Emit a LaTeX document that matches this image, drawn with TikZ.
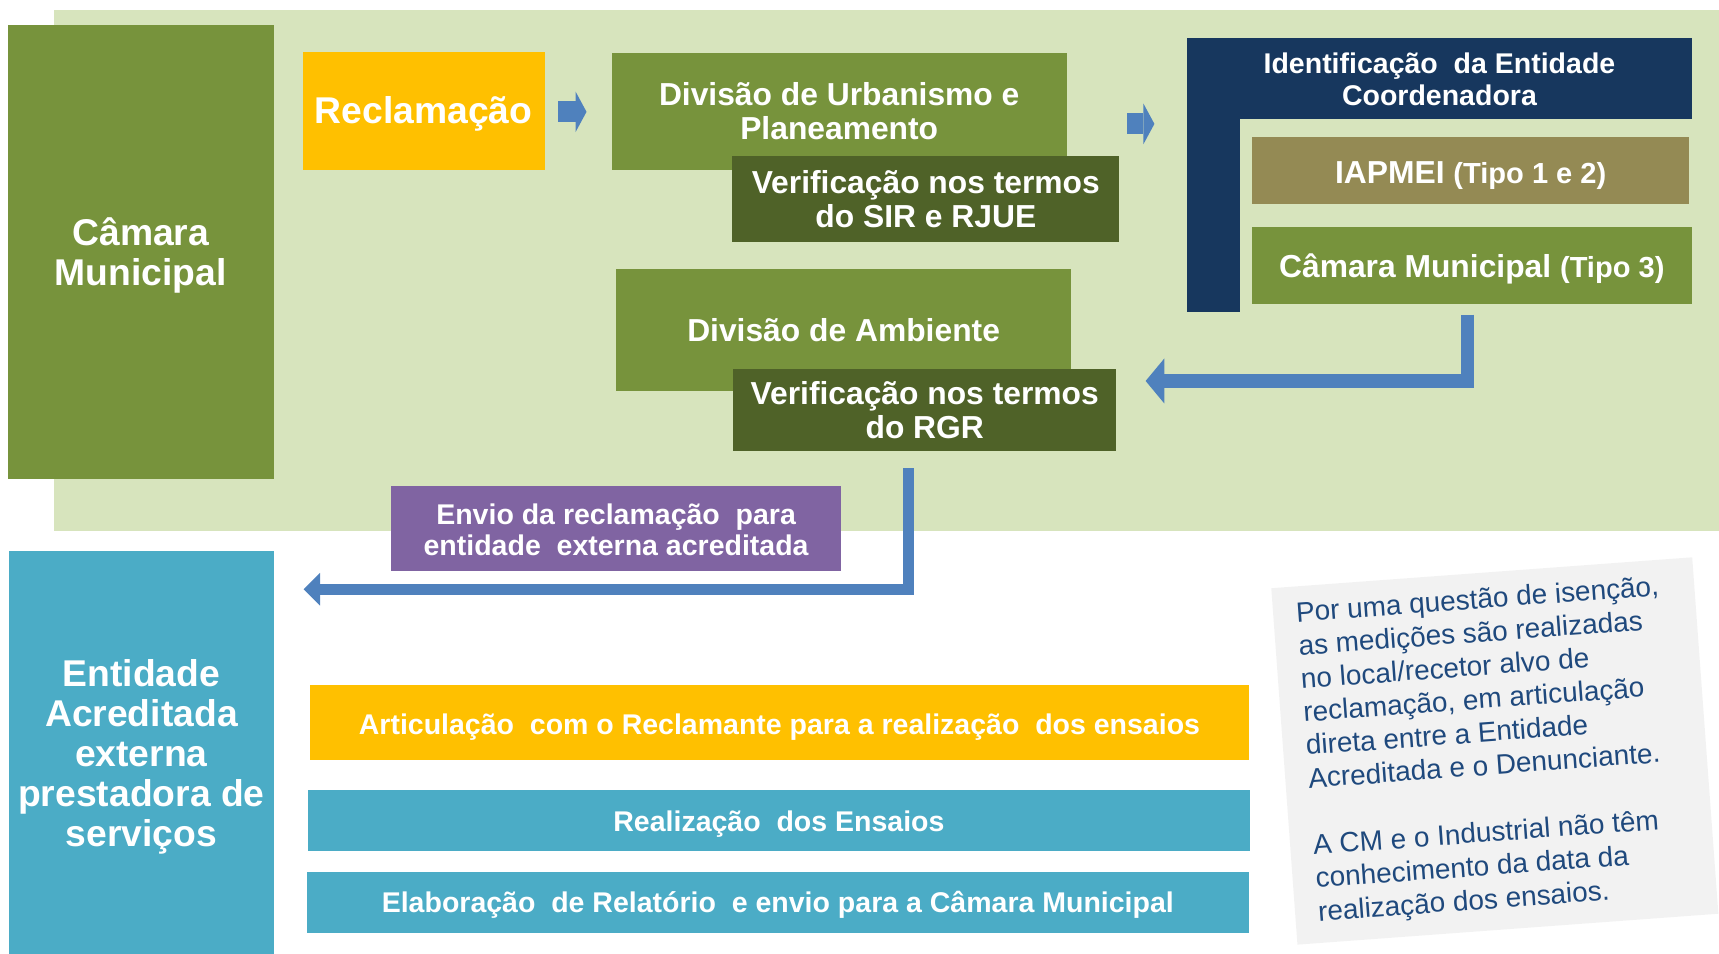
\documentclass[tikz,border=0pt]{standalone}
\usepackage{fontspec}
\setmainfont{Liberation Sans}
\usetikzlibrary{arrows.meta}
\definecolor{cBg}{HTML}{D7E4BD}
\definecolor{cOlive}{HTML}{77933C}
\definecolor{cDOlive}{HTML}{4F6228}
\definecolor{cNavy}{HTML}{17375E}
\definecolor{cKhaki}{HTML}{948A54}
\definecolor{cGold}{HTML}{FFC000}
\definecolor{cPurp}{HTML}{8064A2}
\definecolor{cTeal}{HTML}{4BACC6}
\definecolor{cABlue}{HTML}{4F81BD}
\definecolor{cNoteBg}{HTML}{F2F2F2}
\definecolor{cNoteTxt}{HTML}{1F497D}
\begin{document}
\begin{tikzpicture}[x=1pt,y=-1pt,
  box/.style={rectangle, inner sep=0pt, text=white, align=center},
  big/.style={font=\bfseries\fontsize{34}{36}\selectfont},
  mid/.style={font=\bfseries\fontsize{29}{31.5}\selectfont},
  sml/.style={font=\bfseries\fontsize{26}{29}\selectfont},
  blockarrow/.style={cABlue, line width=19pt, line cap=butt, -{Triangle[length=10pt, width=37pt, line width=0pt]}},
  elbow/.style={cABlue, line cap=butt, line join=miter}
]
\useasboundingbox (0,0) rectangle (1568,870);
\fill[cBg] (49,9) rectangle (1568,484);

\node[box, big, fill=cOlive, minimum width=243, minimum height=414, text height=60.4pt, text depth=0pt] (cm) at (128.5,230) {Câmara\\Municipal};
\node[box, big, fill=cGold, minimum width=221, minimum height=108, text height=24pt, text depth=0pt] (recl) at (386.5,101) {Reclamação};

\node[box, mid, fill=cOlive, minimum width=415, minimum height=107] (dup) at (765.5,101.5) {Divisão de Urbanismo e\\Planeamento};
\node[box, mid, fill=cDOlive, minimum width=353, minimum height=79] (sir) at (844.5,181.5) {Verificação nos termos\\do SIR e RJUE};
\node[box, mid, fill=cOlive, minimum width=415, minimum height=112] (amb) at (769.5,301) {Divisão de Ambiente};
\node[box, mid, fill=cDOlive, minimum width=349, minimum height=74] (rgr) at (843.5,374) {Verificação nos termos\\do RGR};

\fill[cNavy] (1083,35) rectangle (1131,285);
\node[box, font=\bfseries\fontsize{26}{29}\selectfont, fill=cNavy, minimum width=460, minimum height=74] (ident) at (1313,72) {Identificação~ da Entidade\\Coordenadora};
\node[box, fill=cKhaki, minimum width=399, minimum height=61, font=\bfseries\fontsize{29}{31}\selectfont, text height=24pt, text depth=0pt] (iap) at (1341.5,155.5) {IAPMEI {\fontsize{26.5}{31}\selectfont(Tipo 1 e 2)}};
\node[box, fill=cOlive, minimum width=401, minimum height=70, font=\bfseries\fontsize{29}{31}\selectfont, text height=21.5pt, text depth=0pt] (cm3) at (1342.5,242) {Câmara Municipal {\fontsize{26.5}{31}\selectfont(Tipo 3)}};

\node[box, font=\bfseries\fontsize{26}{29}\selectfont, fill=cPurp, minimum width=410, minimum height=78, text height=50pt, text depth=0pt] (envio) at (562,482) {Envio da reclamação~ para\\entidade~ externa acreditada};

\node[box, font=\bfseries\fontsize{34}{36.5}\selectfont, fill=cTeal, minimum width=242, minimum height=367, text height=170.6pt, text depth=0pt] (ent) at (129,686.5) {Entidade\\Acreditada\\externa\\prestadora de\\serviços};

\node[box, sml, fill=cGold, minimum width=856, minimum height=68, text height=21.5pt, text depth=0pt] (art) at (711,659) {Articulação~ com o Reclamante para a realização~ dos ensaios};
\node[box, sml, fill=cTeal, minimum width=859, minimum height=55, text height=19.5pt, text depth=0pt] (real) at (710.5,748.5) {Realização~ dos Ensaios};
\node[box, sml, fill=cTeal, minimum width=859, minimum height=56, text height=19.5pt, text depth=0pt] (elab) at (709.5,823) {Elaboração~ de Relatório~ e envio para a Câmara Municipal};

\node[rectangle, fill=cNoteBg, rotate=4.2, minimum width=385, minimum height=326, inner sep=0pt] (note) at (1363.5,685) {};
\node[rectangle, rotate=4.2, anchor=north west, inner xsep=21pt, inner ysep=14pt, text=cNoteTxt, align=left, font=\fontsize{25.5}{30.4}\selectfont] (notetext) at (note.north west) {Por uma questão de isenção,\\as medições são realizadas\\no local/recetor alvo de\\reclamação, em articulação\\direta entre a Entidade\\Acreditada e o Denunciante.\\[30.4pt]A CM e o Industrial não têm\\conhecimento da data da\\realização dos ensaios.};

% connectors
\coordinate (a1s) at (509,102);
\coordinate (a1e) at (535,102);
\draw[blockarrow] (a1s) -- (a1e);
\coordinate (a2s) at (1028,113);
\coordinate (a2e) at (1053,113);
\draw[blockarrow] (a2s) -- (a2e);
\coordinate (a3s) at (1338.5,287);
\coordinate (a3e) at (1045,347.5);
\draw[elbow, line width=12.5pt, -{Triangle[length=17pt, width=41pt, line width=0pt]}] (a3s) |- (a3e);
\coordinate (a4s) at (828.5,427);
\coordinate (a4e) at (277,537.5);
\draw[elbow, line width=10.5pt, -{Triangle[length=15pt, width=30pt, line width=0pt]}] (a4s) |- (a4e);
\end{tikzpicture}
\end{document}
